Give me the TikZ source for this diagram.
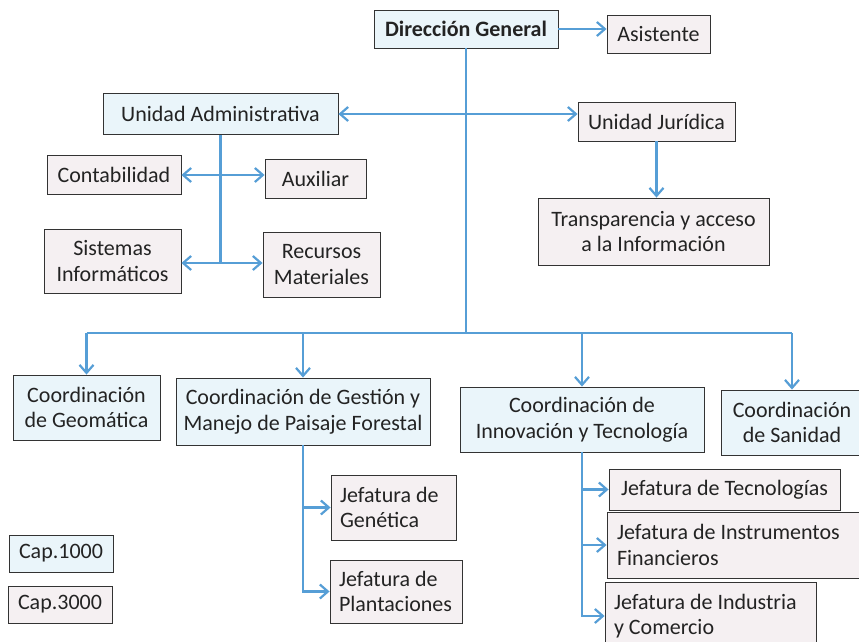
\documentclass[tikz,border=0pt]{standalone}
\usepackage{fontspec}
\setmainfont{Carlito}
\usetikzlibrary{arrows.meta}
\definecolor{lnblue}{RGB}{86,158,214}
\definecolor{fblue}{RGB}{234,245,250}
\definecolor{fpink}{RGB}{245,240,242}
\definecolor{txt}{RGB}{35,35,35}
\tikzset{
  box/.style={draw=black!80, line width=0.9pt, align=center, inner sep=0pt, text=txt,
    font=\fontsize{22}{25.5}\selectfont},
  bbox/.style={box, fill=fblue},
  pbox/.style={box, fill=fpink},
  lbox/.style={pbox, align=flush left},
  conn/.style={draw=lnblue, line width=2.6pt},
  arr/.style={conn, -{Straight Barb[length=8pt,width=14pt,line width=2.2pt]}},
  darr/.style={conn, {Straight Barb[length=8pt,width=14pt,line width=2.2pt]}-{Straight Barb[length=8pt,width=14pt,line width=2.2pt]}},
}
\begin{document}
\begin{tikzpicture}[x=1pt,y=1pt]
\fill[white] (0,0) rectangle (859,-642);
\clip (0,0) rectangle (859,-642);
% nodes
\node[bbox, minimum width=184, minimum height=38] (dg) at (466,-29) {\textbf{Dirección General}};
\node[pbox, minimum width=103, minimum height=38] (asis) at (658.5,-34) {Asistente};
\node[bbox, minimum width=235, minimum height=41] (ua) at (220.5,-114) {Unidad Administrativa};
\node[pbox, minimum width=157, minimum height=39] (uj) at (656.5,-121.5) {Unidad Jurídica};
\node[pbox, minimum width=231, minimum height=67] (tr) at (653.5,-231.5) {Transparencia y acceso\\a la Información};
\node[pbox, minimum width=134, minimum height=39] (cont) at (114,-175) {Contabilidad};
\node[pbox, minimum width=101, minimum height=39] (aux) at (315.5,-178.5) {Auxiliar};
\node[pbox, minimum width=137, minimum height=64] (sis) at (112.5,-261) {Sistemas\\Informáticos};
\node[pbox, minimum width=117, minimum height=65] (rec) at (321.5,-264.5) {Recursos\\Materiales};
\node[bbox, minimum width=147, minimum height=65] (geo) at (86.5,-407.5) {Coordinación\\de Geomática};
\node[bbox, minimum width=254, minimum height=67] (ges) at (303,-411.5) {Coordinación de Gestión y\\Manejo de Paisaje Forestal};
\node[bbox, minimum width=244, minimum height=65] (inn) at (582,-419.5) {Coordinación de\\Innovación y Tecnología};
\node[bbox, minimum width=142, minimum height=65] (san) at (792,-422.5) {Coordinación\\de Sanidad};
\node[lbox, minimum width=125, minimum height=65, text width=107] (gen) at (393.5,-507.5) {Jefatura de\\Genética};
\node[lbox, minimum width=132, minimum height=63, text width=114] (pla) at (396,-591.5) {Jefatura de\\Plantaciones};
\node[pbox, minimum width=231, minimum height=41] (tec) at (724.5,-489.5) {Jefatura de Tecnologías};
\node[lbox, minimum width=262, minimum height=66, text width=242] (ins) at (738,-545) {Jefatura de Instrumentos\\Financieros};
\node[lbox, minimum width=211, minimum height=68, text width=193] (ind) at (710.5,-616) {Jefatura de Industria\\y Comercio};
\node[bbox, minimum width=104, minimum height=37] (c1) at (61,-553.5) {Cap.1000};
\node[pbox, minimum width=104, minimum height=37] (c3) at (60,-604.5) {Cap.3000};
% connectors
\coordinate (bus) at (466,-333);
\draw[arr] (dg.east) -- (asis.west |- dg.east);
\draw[conn] (dg.south) -- (bus);
\draw[darr] (ua.east) -- (uj.west |- ua.east);
\draw[arr] (uj.south) -- (uj.south |- tr.north);
\coordinate (uabot) at (220.5,-263);
\draw[conn] (ua.south) -- (uabot);
\draw[darr] (cont.east) -- (aux.west |- cont.east);
\draw[darr] (sis.east |- uabot) -- (rec.west |- uabot);
\draw[conn] (geo.north |- bus) -- (san.north |- bus);
\draw[arr] (geo.north |- bus) -- (geo.north);
\draw[arr] (ges.north |- bus) -- (ges.north);
\draw[arr] (inn.north |- bus) -- (inn.north);
\draw[arr] (san.north |- bus) -- (san.north);
\draw[arr] (ges.south) |- (gen.west);
\draw[arr] (ges.south) |- (pla.west);
\draw[arr] (inn.south) |- (tec.west);
\draw[arr] (inn.south) |- (ins.west);
\draw[arr] (inn.south) |- (ind.west);
\end{tikzpicture}
\end{document}
